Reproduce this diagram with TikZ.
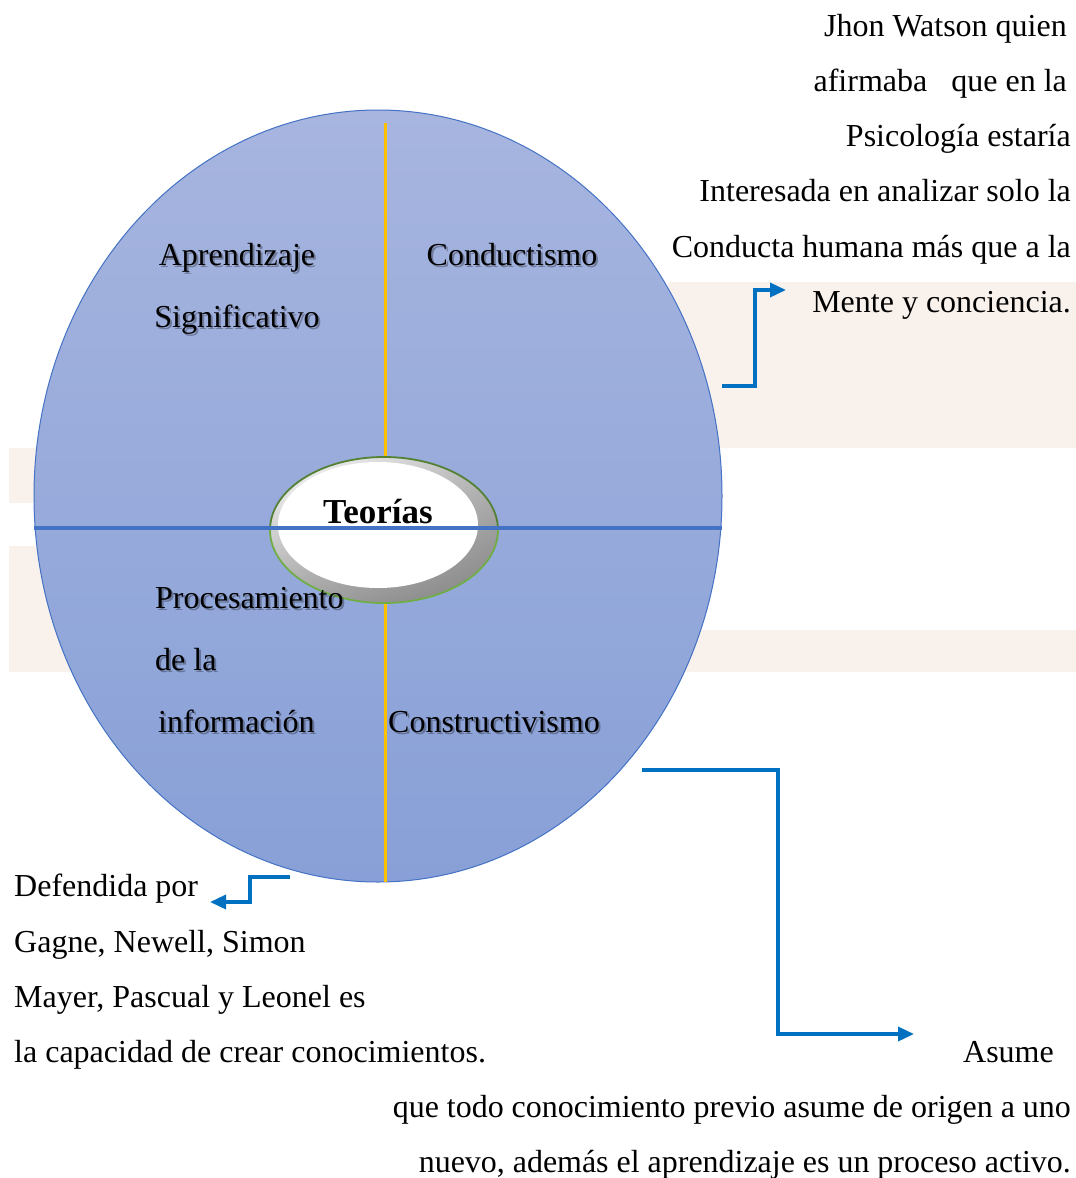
\documentclass[tikz,border=0pt]{standalone}
\usepackage{fontspec}
\setmainfont{Liberation Serif}
\usetikzlibrary{arrows.meta,shadings}
\definecolor{bandc}{RGB}{249,241,236}
\definecolor{elltop}{RGB}{167,181,223}
\definecolor{ellbot}{RGB}{136,160,215}
\definecolor{ellline}{RGB}{68,114,196}
\definecolor{yell}{RGB}{255,192,0}
\definecolor{arrb}{RGB}{0,112,192}
\definecolor{grnA}{RGB}{112,173,71}
\definecolor{grnB}{RGB}{84,130,53}
\definecolor{bevel}{RGB}{128,128,128}
\newcommand\fitw[2]{\setbox0\hbox{#2}\scalebox{\fpeval{(#1)/(\the\wd0)}}[1]{\box0}}
\tikzset{
  txt/.style={inner sep=0pt, font=\fontsize{32}{38}\selectfont},
  shadowtxt/.style={txt, text=black, opacity=0.3},
  conn/.style={draw=arrb, line width=3.5pt, line join=miter, -{Triangle[length=16pt,width=14pt]}},
  bandbox/.style={fill=bandc, draw=none}
}
\newcommand\qlab[5]{%
  \node[shadowtxt, anchor=#2] at (#3+2,#4+2) {#5};
  \node[txt, anchor=#2] (#1) at (#3,#4) {#5};}
\begin{document}
\begin{tikzpicture}[x=1pt,y=-1pt]
\useasboundingbox (0,0) rectangle (1076,1178);
\fill[white] (0,0) rectangle (1076,1178);
% shaded bands
\fill[bandbox] (668,282) rectangle (1076,448);
\fill[bandbox] (9,448) rectangle (200,503);
\fill[bandbox] (9,546) rectangle (200,630);
\fill[bandbox] (9,630) rectangle (1076,672);
% big ellipse
\shade[top color=elltop, bottom color=ellbot] (378,496) ellipse [x radius=344pt, y radius=386pt];
\draw[ellline, line width=1pt] (378,496) ellipse [x radius=344pt, y radius=386pt];
% vertical divider
\draw[yell, line width=3pt] (385,123) -- (385,882);
% central ellipse
\shade[upper left=white, upper right=white!45!bevel, lower left=white!30!bevel, lower right=bevel]
  (384,530) ellipse [x radius=114pt, y radius=73pt];
\fill[white] (378,525) ellipse [x radius=100pt, y radius=63pt];
\draw[grnA, line width=1.8pt] (270,530) arc [start angle=180, end angle=0, x radius=114pt, y radius=-73pt];
\draw[grnB, line width=1.8pt] (270,530) arc [start angle=180, end angle=360, x radius=114pt, y radius=-73pt];
\node[inner sep=0pt, anchor=base, font=\fontsize{35}{40}\selectfont\bfseries] (teo) at (378,523) {Teorías};
% horizontal divider
\draw[ellline, line width=3.2pt] (34,528) -- (722,528);
% quadrant labels
\qlab{qa1}{base}{237}{265}{Aprendizaje}
\qlab{qa2}{base}{237}{327}{Significativo}
\qlab{qc}{base}{512}{265}{Conductismo}
\qlab{qp1}{base west}{155}{608}{Procesamiento}
\qlab{qp2}{base west}{155}{670}{de la}
\qlab{qp3}{base west}{158}{732}{información}
\qlab{qk}{base west}{388}{732}{Constructivismo}
% right text
\node[txt, anchor=base east] (r1) at (1067,36) {Jhon Watson quien};
\node[txt, anchor=base east] (r2) at (1067,91) {afirmaba\hspace{24pt}que en la};
\node[txt, anchor=base east] (r3) at (1071,146) {Psicología estaría};
\node[txt, anchor=base east] (r4) at (1071,201) {Interesada en analizar solo la};
\node[txt, anchor=base east] (r5) at (1071,257) {Conducta humana más que a la};
\node[txt, anchor=base east] (r6) at (1071,312) {Mente y conciencia.};
% bottom-left text
\node[txt, anchor=base west] (l1) at (14,896) {Defendida por};
\node[txt, anchor=base west] (l2) at (14,952) {Gagne, Newell, Simon};
\node[txt, anchor=base west] (l3) at (14,1007) {Mayer, Pascual y Leonel es};
\node[txt, anchor=base west] (l4) at (14,1062) {la capacidad de crear conocimientos.};
% bottom-right text
\node[txt, anchor=base east] (as) at (1054,1062) {Asume};
\node[txt, anchor=base east] (b1) at (1071,1117) {\fitw{678}{que todo conocimiento previo asume de origen a uno}};
\node[txt, anchor=base east] (b2) at (1071,1172) {\fitw{652}{nuevo, además el aprendizaje es un proceso activo.}};
% connectors
\coordinate (a1s) at (722,386);
\coordinate (a1e) at (786,290);
\draw[conn] (a1s) -- ++(33,0) |- (a1e);
\coordinate (a2s) at (290,877);
\coordinate (a2e) at (210,902);
\draw[conn] (a2s) -- ++(-40,0) |- (a2e);
\coordinate (a3s) at (642,770);
\coordinate (a3e) at (914,1034);
\draw[conn] (a3s) -- ++(136,0) |- (a3e);
\end{tikzpicture}
\end{document}
